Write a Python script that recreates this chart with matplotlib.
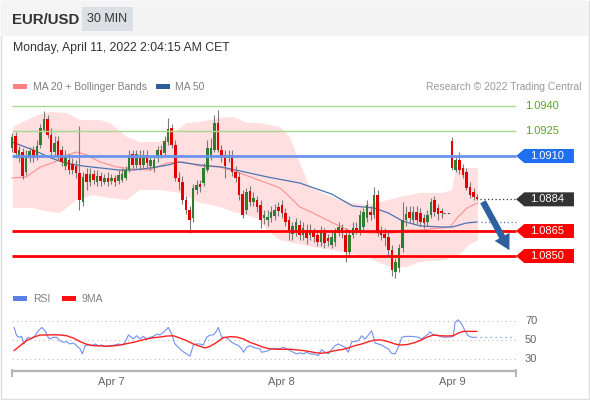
import numpy as np
import matplotlib.pyplot as plt
from matplotlib.patches import Rectangle, Polygon

plt.rcParams['font.family'] = ['Liberation Sans', 'DejaVu Sans']

nan = float('nan')

# EUR/USD 30 min candles (bar index 0 = Apr 6 ~10:00, 48 bars per day)
opens = [1.09148, 1.09220, 1.09100, 1.09124, 1.09004, 1.09088, 1.09136, 1.09088, 1.09166, 1.09256,
         1.09322, 1.09226, 1.09124, 1.09190, 1.09136, 1.09040, 1.09076, 1.09052, 1.09040, 1.08998,
         1.08824, 1.08992, 1.08944, 1.08992, 1.08944, 1.08980, 1.08944, 1.08968, 1.08950, 1.08968,
         1.08950, 1.08956, 1.08968, 1.09016, 1.09112, 1.09046, 1.09106, 1.09046, 1.09106, 1.09040,
         1.09028, 1.09088, 1.09136, 1.09118, 1.09184, 1.09268, 1.09166, 1.08968, 1.08944, 1.08836,
         1.08776, 1.08728, 1.08896, 1.08932, 1.08938, 1.09016, 1.09106, 1.09136, 1.09298, 1.09136,
         1.09106, 1.09088, 1.09106, 1.09004, 1.08974, 1.08872, 1.08776, 1.08890, 1.08824, 1.08836,
         1.08806, 1.08728, 1.08716, 1.08728, 1.08740, 1.08794, 1.08806, 1.08758, 1.08716, 1.08632,
         1.08644, 1.08686, 1.08626, 1.08656, 1.08626, 1.08644, 1.08626, 1.08584, 1.08638, 1.08608,
         1.08566, 1.08584, 1.08638, 1.08668, 1.08626, 1.08524, 1.08626, 1.08668, 1.08644, 1.08674,
         1.08728, 1.08764, 1.08746, 1.08866, 1.08644, 1.08632, 1.08614, 1.08536, 1.08404, 1.08428,
         1.08548, 1.08716, 1.08764, 1.08716, 1.08764, 1.08758, 1.08728, 1.08704, 1.08746, 1.08836,
         1.08788, 1.08770, nan, nan, 1.09190, 1.09016, 1.09076, 1.09028, 1.09004, 1.08914,
         1.08884, 1.08854]
highs = [1.09238, 1.09244, 1.09160, 1.09148, 1.09136, 1.09154, 1.09160, 1.09196, 1.09292, 1.09370,
         1.09346, 1.09268, 1.09220, 1.09220, 1.09160, 1.09136, 1.09112, 1.09088, 1.09076, 1.09280,
         1.09004, 1.09028, 1.09028, 1.09016, 1.09016, 1.09004, 1.08992, 1.09004, 1.08992, 1.08986,
         1.09016, 1.09028, 1.09040, 1.09136, 1.09136, 1.09136, 1.09136, 1.09136, 1.09136, 1.09100,
         1.09100, 1.09160, 1.09166, 1.09220, 1.09328, 1.09292, 1.09196, 1.09004, 1.08980, 1.08860,
         1.08800, 1.08932, 1.08956, 1.08956, 1.09058, 1.09196, 1.09208, 1.09346, 1.09376, 1.09166,
         1.09136, 1.09136, 1.09136, 1.09040, 1.09004, 1.08896, 1.08908, 1.08920, 1.08884, 1.08860,
         1.08836, 1.08776, 1.08776, 1.08800, 1.08812, 1.08824, 1.08836, 1.08788, 1.08740, 1.08704,
         1.08728, 1.08716, 1.08704, 1.08692, 1.08692, 1.08668, 1.08656, 1.08680, 1.08668, 1.08632,
         1.08644, 1.08668, 1.08704, 1.08692, 1.08668, 1.08656, 1.08704, 1.08704, 1.08776, 1.08788,
         1.08836, 1.08800, 1.08914, 1.08896, 1.08680, 1.08668, 1.08644, 1.08566, 1.08488, 1.08572,
         1.08824, 1.08800, 1.08800, 1.08800, 1.08800, 1.08788, 1.08752, 1.08776, 1.08848, 1.08860,
         1.08812, 1.08788, nan, nan, 1.09214, 1.09100, 1.09124, 1.09052, 1.09028, 1.08944,
         1.08908, 1.08872]
lows = [1.09124, 1.09088, 1.09064, 1.08962, 1.08986, 1.09064, 1.09064, 1.09076, 1.09148, 1.09244,
        1.09208, 1.09100, 1.09100, 1.09076, 1.09040, 1.09016, 1.08992, 1.08992, 1.08968, 1.08776,
        1.08800, 1.08896, 1.08920, 1.08932, 1.08920, 1.08920, 1.08932, 1.08920, 1.08932, 1.08920,
        1.08932, 1.08944, 1.08956, 1.09004, 1.09028, 1.09028, 1.09016, 1.09028, 1.09028, 1.09016,
        1.09004, 1.09064, 1.09088, 1.09100, 1.09166, 1.09148, 1.08950, 1.08896, 1.08812, 1.08752,
        1.08638, 1.08704, 1.08872, 1.08884, 1.08920, 1.09004, 1.09076, 1.09124, 1.09124, 1.09064,
        1.08968, 1.09064, 1.08980, 1.08944, 1.08836, 1.08728, 1.08752, 1.08800, 1.08800, 1.08764,
        1.08668, 1.08692, 1.08680, 1.08704, 1.08716, 1.08740, 1.08728, 1.08680, 1.08596, 1.08596,
        1.08620, 1.08596, 1.08596, 1.08572, 1.08596, 1.08584, 1.08560, 1.08560, 1.08548, 1.08560,
        1.08548, 1.08560, 1.08620, 1.08608, 1.08464, 1.08500, 1.08608, 1.08632, 1.08626, 1.08656,
        1.08704, 1.08716, 1.08728, 1.08620, 1.08596, 1.08560, 1.08500, 1.08380, 1.08368, 1.08404,
        1.08524, 1.08680, 1.08704, 1.08692, 1.08692, 1.08680, 1.08668, 1.08680, 1.08728, 1.08740,
        1.08716, 1.08728, nan, nan, 1.09016, 1.09004, 1.08992, 1.08968, 1.08896, 1.08848,
        1.08836, 1.08836]
closes = [1.09214, 1.09118, 1.09136, 1.08980, 1.09088, 1.09130, 1.09088, 1.09160, 1.09268, 1.09322,
          1.09226, 1.09124, 1.09178, 1.09100, 1.09064, 1.09100, 1.09016, 1.09016, 1.08998, 1.08836,
          1.08974, 1.08944, 1.08992, 1.08956, 1.08980, 1.08950, 1.08968, 1.08944, 1.08968, 1.08944,
          1.08986, 1.08992, 1.09016, 1.09106, 1.09046, 1.09112, 1.09046, 1.09106, 1.09058, 1.09076,
          1.09076, 1.09136, 1.09106, 1.09190, 1.09262, 1.09166, 1.08968, 1.08944, 1.08836, 1.08776,
          1.08716, 1.08908, 1.08926, 1.08914, 1.09028, 1.09148, 1.09148, 1.09298, 1.09136, 1.09094,
          1.09040, 1.09106, 1.09004, 1.08968, 1.08866, 1.08746, 1.08884, 1.08824, 1.08848, 1.08794,
          1.08716, 1.08746, 1.08734, 1.08764, 1.08776, 1.08770, 1.08758, 1.08704, 1.08644, 1.08680,
          1.08704, 1.08626, 1.08668, 1.08608, 1.08656, 1.08614, 1.08584, 1.08644, 1.08578, 1.08590,
          1.08614, 1.08644, 1.08674, 1.08638, 1.08524, 1.08626, 1.08668, 1.08656, 1.08746, 1.08764,
          1.08806, 1.08746, 1.08866, 1.08638, 1.08626, 1.08608, 1.08536, 1.08416, 1.08464, 1.08548,
          1.08716, 1.08752, 1.08728, 1.08764, 1.08716, 1.08704, 1.08698, 1.08746, 1.08824, 1.08764,
          1.08752, 1.08758, nan, nan, 1.09028, 1.09076, 1.09016, 1.08986, 1.08908, 1.08866,
          1.08854, 1.08842]

# moving averages and bollinger bands, read at sample bars
ma50_x = [0, 6, 11, 15, 20, 25, 30, 34, 39, 44, 47, 53, 59, 63, 72, 81, 90, 96, 102, 106,
          110, 115, 121, 124, 128, 131]
ma50 = [1.09184, 1.09136, 1.09088, 1.09058, 1.09040, 1.09028, 1.09016, 1.09016, 1.09028, 1.09046,
        1.09064, 1.09046, 1.09034, 1.09016, 1.08974, 1.08938, 1.08872, 1.08800, 1.08788, 1.08758,
        1.08710, 1.08680, 1.08674, 1.08674, 1.08698, 1.08704]
ma20_x = [0, 4, 8, 12, 15.5, 18.3, 21.1, 24.8, 29.6, 34.1, 38.9, 43.7, 48.2, 53, 58.6, 63.4,
          67.9, 71.8, 75.5, 78.3, 81.1, 84.8, 90.4, 96, 101.7, 107.3, 111, 114.9, 123.4, 125.6,
          128.2, 131]
ma20 = [1.08968, 1.08974, 1.09034, 1.09064, 1.09106, 1.09124, 1.09106, 1.09064, 1.09034, 1.09022,
        1.09016, 1.09058, 1.09064, 1.09040, 1.09034, 1.09004, 1.08968, 1.08938, 1.08908, 1.08854,
        1.08794, 1.08758, 1.08698, 1.08644, 1.08638, 1.08638, 1.08656, 1.08656, 1.08674, 1.08734,
        1.08788, 1.08818]
bb_up_x = [0.3, 5.9, 10.7, 15.5, 19.2, 24.8, 27.6, 32.4, 36, 41.7, 45.4, 49.3, 53, 58.6, 62.3,
           66.2, 69.9, 75.5, 78.3, 81.1, 83.9, 88.7, 92.4, 96, 100, 103.7, 109.3, 114.9, 121.1,
           124, 125, 131.3]
bb_up = [1.09274, 1.09334, 1.09364, 1.09358, 1.09316, 1.09316, 1.09298, 1.09214, 1.09184, 1.09184,
         1.09238, 1.09298, 1.09304, 1.09328, 1.09334, 1.09298, 1.09298, 1.09274, 1.09214, 1.09058,
         1.08914, 1.08866, 1.08836, 1.08818, 1.08806, 1.08824, 1.08854, 1.08878, 1.08878, 1.08896,
         1.09028, 1.09028]
bb_lo_x = [0.3, 5.9, 10.7, 13.5, 18.3, 22.8, 27.6, 32.4, 36, 41.7, 47.3, 53, 58.6, 62.3, 66.2,
           69.9, 71.8, 75.5, 79.2, 84.8, 90.4, 94.4, 100, 103.7, 107.3, 111.3, 114.9, 122, 126,
           128.7, 131.3]
bb_lo = [1.08788, 1.08788, 1.08764, 1.08758, 1.08836, 1.08866, 1.08848, 1.08836, 1.08896, 1.08896,
         1.08878, 1.08818, 1.08794, 1.08764, 1.08746, 1.08716, 1.08656, 1.08596, 1.08578, 1.08554,
         1.08536, 1.08518, 1.08494, 1.08458, 1.08428, 1.08434, 1.08464, 1.08476, 1.08506, 1.08566,
         1.08596]

# key levels
resist_levels = [1.0940, 1.0925]
pivot_level = 1.0910
last_price = 1.0884
support_levels = [1.0865, 1.0850]

# RSI panel
rsi_x = [0.6, 1.3, 2.1, 2.7, 3.4, 4.1, 4.6, 5.5, 6.5, 7.4, 8.4, 9.3, 10.2, 10.7, 11.6, 12.6,
         13.5, 14.5, 15.4, 16.3, 17.3, 18.2, 19.2, 19.8, 20.6, 21.5, 22.4, 23.4, 24.3, 25.3, 26.2,
         27.6, 29.0, 30.0, 31.4, 32.3, 32.8, 33.7, 34.2, 35.1, 36.1, 37.0, 37.9, 38.9, 39.8, 40.8,
         41.7, 42.6, 43.6, 44.0, 45.0, 45.9, 46.9, 47.8, 48.7, 49.2, 50.1, 50.6, 51.1, 52.0, 53.0,
         53.9, 54.8, 55.8, 56.7, 57.7, 58.1, 58.6, 59.1, 60.0, 60.9, 61.9, 62.8, 63.8, 64.7, 65.2,
         66.1, 67.0, 68.0, 68.9, 69.9, 70.3, 71.3, 72.2, 73.1, 74.1, 75.0, 76.0, 76.4, 77.4, 78.3,
         79.2, 80.2, 81.1, 82.1, 83.0, 83.9, 84.9, 85.8, 86.3, 87.2, 88.2, 89.1, 90.0, 91.0, 91.9,
         92.9, 93.8, 94.7, 95.7, 96.6, 97.6, 98.5, 99.4, 100.4, 101.3, 102.3, 103.2, 104.1, 105.1,
         106.0, 106.9, 107.9, 108.8, 109.8, 110.7, 111.6, 112.6, 113.5, 114.5, 115.4, 116.3, 117.3,
         117.7, 118.7, 119.6, 120.6, 121.5, 122.4, 123.4, 124.3, 124.8, 125.7, 126.7, 127.6, 128.5,
         129.5, 130.9]
rsi = [63.6, 54.6, 52.9, 53.9, 45.7, 51.1, 52.9, 51.1, 54.6, 60.0, 63.6, 60.0, 52.9, 51.1, 52.9, 52.9,
       49.3, 47.5, 48.2, 45.7, 46.8, 43.9, 40.4, 35.0, 43.9, 44.6, 43.9, 45.7, 43.9, 44.6, 43.2,
       43.9, 44.6, 45.7, 44.6, 51.1, 55.4, 52.9, 51.1, 54.6, 51.1, 53.9, 51.1, 52.9, 53.9, 56.4,
       55.4, 58.2, 61.8, 63.6, 56.4, 45.7, 42.1, 38.6, 36.1, 35.0, 32.5, 38.6, 44.6, 45.7, 45.7,
       44.6, 52.9, 55.4, 55.4, 60.0, 63.6, 58.2, 52.9, 52.9, 51.1, 47.5, 45.7, 43.9, 40.4, 36.8,
       42.1, 43.9, 42.1, 41.1, 40.4, 36.8, 37.5, 38.6, 40.4, 41.1, 40.4, 41.4, 42.1, 40.4, 38.6,
       36.8, 35.0, 36.1, 35.0, 36.8, 35.0, 35.0, 33.9, 33.2, 39.6, 36.8, 35.0, 39.6, 43.9, 45.7,
       43.9, 42.1, 36.8, 48.2, 48.2, 49.3, 54.6, 51.1, 55.4, 60.0, 46.8, 45.7, 44.6, 42.1,
       40.4, 35.7, 35.0, 42.1, 52.9, 53.9, 53.9, 53.9, 53.6, 52.9, 51.1, 53.9, 56.4,
       58.9, 55.4, 55.4, 53.9, 52.9, 53.2, 53.2, 53.9, 68.9, 71.8, 67.1, 60.0, 54.6,
       52.9, 52.9]
ma9_x = [0.6, 2.3, 4.1, 6.0, 7.9, 9.8, 11.6, 13.5, 15.4, 17.3, 19.2, 21.0, 22.9, 24.8, 26.7, 28.5,
         30.4, 32.3, 34.2, 36.1, 37.9, 39.8, 41.7, 43.6, 45.4, 47.3, 49.2, 51.1, 53.0, 54.4, 55.8,
         57.7, 59.5, 61.4, 63.3, 65.2, 67.0, 68.9, 70.8, 72.7, 74.6, 76.4, 78.3, 80.2, 82.1, 83.9,
         85.8, 87.2, 89.1, 91.0, 92.9, 94.7, 96.6, 98.5, 100.4, 102.3, 104.1, 106.0, 107.9, 109.3,
         111.2, 113.1, 114.9, 116.8, 118.7, 120.6, 122.4, 124.3, 125.7, 127.1, 130.9]
ma9 = [38.6, 43.9, 49.3, 52.9, 55.4, 55.4, 55.7, 55.4, 54.6, 52.1, 48.2, 45.4, 43.9, 43.6, 43.2, 43.6,
       44.6, 46.1, 47.5, 49.3, 51.1, 52.5, 53.2, 54.3, 54.6, 52.1, 49.3, 45.7, 43.2, 41.4, 43.2,
       47.5, 52.5, 53.6, 53.2, 51.1, 47.5, 45.0, 42.1, 40.4, 40.0, 40.0, 40.0, 39.3, 38.6, 37.5,
       36.1, 35.7, 36.8, 38.6, 39.6, 41.4, 43.9, 45.7, 48.2, 50.0, 50.0, 48.2, 45.7, 44.6,
       45.0, 46.8, 49.3, 52.9, 55.4, 54.6, 54.3, 54.6, 57.5, 59.3, 59.3]
rsi_levels = [70, 50, 30]

date_labels = ['Apr 7', 'Apr 8', 'Apr 9']
date_idx = [28, 76, 124]

W, H = 590, 400
PX = 3.55      # pixels per bar
X0 = 12        # pixel of bar 0
X_END = 142    # right end of the plotting area (bar units)

fig = plt.figure(figsize=(W / 100, H / 100), dpi=100)

# header, legends and frame in pixel coordinates
bg = fig.add_axes([0, 0, 1, 1])
bg.set_xlim(0, W)
bg.set_ylim(H, 0)
bg.axis('off')
bg.add_patch(Rectangle((0.5, 0.5), W - 1.5, H - 2, fill=False, ec='#dedede', lw=1))
bg.add_patch(Rectangle((1, 1), W - 2, 35, fc='#f4f4f4', ec='none'))
bg.add_patch(Rectangle((82, 7), 51, 24, fc='#dcdfe4', ec='none'))
bg.text(12, 19.5, 'EUR/USD', fontsize=10.8, fontweight='bold', color='#333333', va='center')
bg.text(107.5, 19.5, '30 MIN', fontsize=9, color='#333333', va='center', ha='center')
bg.text(13, 48, 'Monday, April 11, 2022 2:04:15 AM CET', fontsize=8.8, color='#333333', va='center')

bg.add_patch(Rectangle((13, 84), 14, 5, fc='#ff8080', ec='none'))
bg.text(33, 86.5, 'MA 20 + Bollinger Bands', fontsize=7.5, color='#808080', va='center')
bg.add_patch(Rectangle((156, 84), 14, 5, fc='#2f5d9c', ec='none'))
bg.text(175, 86.5, 'MA 50', fontsize=7.5, color='#808080', va='center')
bg.text(581, 86.5, 'Research \u00a9 2022 Trading Central', fontsize=7.5, color='#9a9a9a',
        va='center', ha='right')

bg.add_patch(Rectangle((13, 296), 14, 5, fc='#5f7fe8', ec='none'))
bg.text(33, 298.5, 'RSI', fontsize=7.5, color='#808080', va='center')
bg.add_patch(Rectangle((62, 296), 14, 5, fc='#ff1010', ec='none'))
bg.text(82, 298.5, '9MA', fontsize=7.5, color='#808080', va='center')

# bottom axis bracket
bg.plot([12, 516], [370.5, 370.5], color='#b4b4b4', lw=1.6, solid_capstyle='butt')
bg.plot([12, 12], [370, 376], color='#b4b4b4', lw=1.4)
bg.plot([516, 516], [370, 376], color='#b4b4b4', lw=1.4)

# price panel
ax = fig.add_axes([0, 1 - 285 / H, 1, 185 / H])
ax.set_xlim(-X0 / PX, (W - X0) / PX)
ax.set_ylim(1.08326, 1.09436)
ax.axis('off')
ax.patch.set_alpha(0)

ax.fill(bb_up_x + bb_lo_x[::-1], bb_up + bb_lo[::-1], color='#ffdfdf', lw=0, zorder=1)
ax.plot(ma20_x, ma20, color='#ff8f8f', lw=0.8, zorder=2)
ax.plot(ma50_x, ma50, color='#4c74b4', lw=0.9, zorder=2)
ax.hlines(ma50[-1], ma50_x[-1] + 1, X_END, colors='#4c74b4', linestyles=(0, (1, 2)), lw=0.9)

for i in range(len(closes)):
    if np.isnan(closes[i]):
        continue
    up = closes[i] >= opens[i]
    ax.vlines(i, lows[i], highs[i], colors='#7a7a7a', lw=0.8, zorder=3)
    body = max(abs(closes[i] - opens[i]), 0.00004)
    ax.bar(i, body, bottom=min(opens[i], closes[i]), width=0.72,
           color='#2e7d32' if up else '#e30000', lw=0, zorder=4)

# gap between sessions
gap = [i for i in range(len(closes)) if np.isnan(closes[i])]
ax.hlines(closes[gap[0] - 1], gap[0] - 0.5, gap[-1] + 0.5, colors='#555555',
          linestyles=(0, (2, 2)), lw=0.8, zorder=3)

for lv in resist_levels:
    ax.hlines(lv, 0, X_END, colors='#a9d98c', lw=1, zorder=5)
    ax.text(144.5, lv, f'{lv:.4f}', color='#5ba61e', fontsize=8, va='center', ha='left')


def tag(level, color):
    h = 0.00042
    ax.add_patch(Polygon([(X_END, level), (X_END + 2.3, level + h), (158.3, level + h),
                          (158.3, level - h), (X_END + 2.3, level - h)],
                         closed=True, fc=color, ec='none', zorder=6))
    ax.text(150.8, level, f'{level:.4f}', color='white', fontsize=8, va='center', ha='center',
            zorder=7)


ax.hlines(pivot_level, 0, X_END, colors='#6b93ee', lw=2, zorder=5)
tag(pivot_level, '#1f6ff0')
for lv in support_levels:
    ax.hlines(lv, 0, X_END, colors='#ff0000', lw=2, zorder=5)
    tag(lv, '#ff0000')
ax.hlines(last_price, len(closes) - 0.2, X_END, colors='#333333', linestyles=(0, (1, 2)),
          lw=0.9, zorder=5)
tag(last_price, '#333333')

ax.annotate('', xy=(140.5, support_levels[-1] + 0.0002), xytext=(len(closes) + 0.3, last_price),
            arrowprops=dict(arrowstyle='simple,head_width=1.1,head_length=1.0,tail_width=0.42',
                            fc='#2e5f9f', ec='none', mutation_scale=11), zorder=8)

# RSI panel
rx = fig.add_axes([0, 1 - 370 / H, 1, 70 / H])
rx.set_xlim(-X0 / PX, (W - X0) / PX)
rx.set_ylim(17.6, 93.2)
rx.axis('off')
rx.patch.set_alpha(0)
for lv in rsi_levels:
    rx.hlines(lv, 0, X_END, colors='#bdbdbd', linestyles=(0, (1, 3)), lw=0.8)
    rx.text(144.5, lv, str(lv), color='#666666', fontsize=8, va='center', ha='left')
rx.plot(rsi_x, rsi, color='#7092f0', lw=0.8)
rx.plot(ma9_x, ma9, color='#ff2020', lw=1)
rx.hlines(rsi[-1], rsi_x[-1] + 1, 141, colors='#7092f0', linestyles=(0, (1, 3)), lw=0.9)

for d, lab in zip(date_idx, date_labels):
    rx.text(d, -0.17, lab, transform=rx.get_xaxis_transform(), color='#666666', fontsize=8,
            ha='center', va='center')

fig.savefig('out.png', dpi=100)
